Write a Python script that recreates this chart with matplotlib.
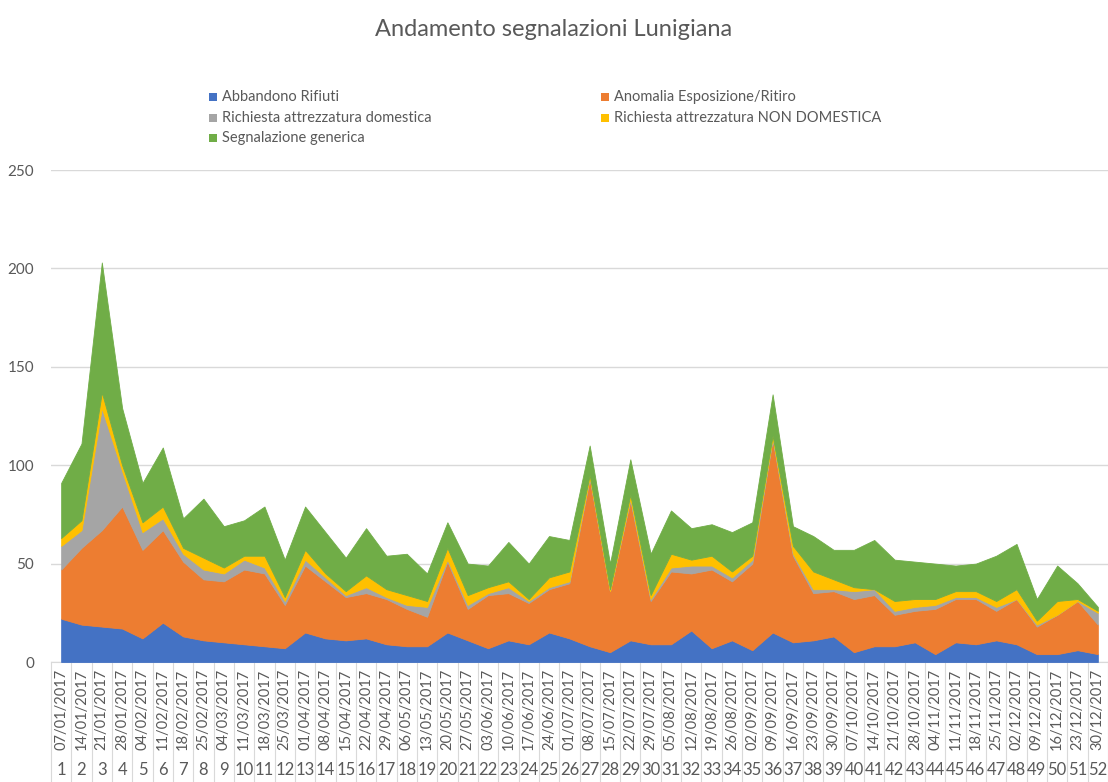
import numpy as np
import matplotlib
matplotlib.use("Agg")
import matplotlib.pyplot as plt
from matplotlib.patches import Rectangle
import matplotlib.transforms as mtransforms

plt.rcParams["font.family"] = ["Lato", "DejaVu Sans"]

# values (weekly counts, 2017)
weeks = list(range(1, 53))
dates = [
    "07/01/2017", "14/01/2017", "21/01/2017", "28/01/2017", "04/02/2017", "11/02/2017",
    "18/02/2017", "25/02/2017", "04/03/2017", "11/03/2017", "18/03/2017", "25/03/2017",
    "01/04/2017", "08/04/2017", "15/04/2017", "22/04/2017", "29/04/2017", "06/05/2017",
    "13/05/2017", "20/05/2017", "27/05/2017", "03/06/2017", "10/06/2017", "17/06/2017",
    "24/06/2017", "01/07/2017", "08/07/2017", "15/07/2017", "22/07/2017", "29/07/2017",
    "05/08/2017", "12/08/2017", "19/08/2017", "26/08/2017", "02/09/2017", "09/09/2017",
    "16/09/2017", "23/09/2017", "30/09/2017", "07/10/2017", "14/10/2017", "21/10/2017",
    "28/10/2017", "04/11/2017", "11/11/2017", "18/11/2017", "25/11/2017", "02/12/2017",
    "09/12/2017", "16/12/2017", "23/12/2017", "30/12/2017",
]

abbandono = [22, 19, 18, 17, 12, 20, 13, 11, 10, 9, 8, 7, 15, 12, 11, 12, 9, 8, 8, 15,
             11, 7, 11, 9, 15, 12, 8, 5, 11, 9, 9, 16, 7, 11, 6, 15, 10, 11, 13, 5,
             8, 8, 10, 4, 10, 9, 11, 9, 4, 4, 6, 4]
anomalia = [25, 39, 49, 62, 45, 47, 38, 31, 31, 38, 37, 22, 34, 29, 22, 23, 23, 19, 15, 36,
            16, 27, 24, 21, 22, 28, 85, 31, 71, 22, 37, 29, 40, 30, 44, 98, 44, 24, 23, 27,
            26, 16, 16, 23, 22, 23, 15, 23, 14, 20, 25, 15]
domestica = [12, 9, 62, 18, 9, 6, 4, 5, 4, 5, 3, 2, 3, 2, 1, 3, 1, 2, 5, 1,
             2, 1, 3, 1, 1, 1, 1, 0, 1, 1, 2, 4, 2, 2, 2, 1, 1, 2, 1, 4,
             3, 2, 2, 2, 1, 1, 2, 0, 1, 0, 0, 6]
non_domestica = [4, 5, 8, 3, 5, 6, 3, 6, 3, 2, 6, 2, 5, 2, 2, 6, 4, 5, 3, 6,
                 5, 3, 3, 1, 5, 5, 1, 1, 2, 2, 7, 3, 5, 3, 2, 1, 4, 9, 5, 2,
                 0, 5, 4, 3, 3, 3, 3, 5, 2, 7, 1, 1]
generica = [28, 39, 66, 29, 20, 30, 15, 30, 21, 18, 25, 19, 22, 21, 17, 24, 17, 21, 14, 13,
            16, 11, 20, 18, 21, 16, 15, 13, 18, 21, 22, 16, 16, 20, 17, 21, 10, 18, 15, 19,
            25, 21, 19, 18, 13, 14, 23, 23, 11, 18, 8, 2]

series_names = ["Abbandono Rifiuti", "Anomalia Esposizione/Ritiro",
                "Richiesta attrezzatura domestica", "Richiesta attrezzatura NON DOMESTICA",
                "Segnalazione generica"]
colors = ["#4472C4", "#ED7D31", "#A5A5A5", "#FFC000", "#70AD47"]
text_color = "#595959"
grid_color = "#D9D9D9"

fig = plt.figure(figsize=(11.08, 7.82), dpi=100)
ax = fig.add_axes([51 / 1108, 120 / 782, 1057 / 1108, 492 / 782])

ax.stackplot(weeks, abbandono, anomalia, domestica, non_domestica, generica,
             colors=colors, linewidth=0.6, edgecolor="face", zorder=3)

ax.set_xlim(0.5, 52.5)
ax.set_ylim(0, 250)
ax.set_yticks(range(0, 251, 50))
ax.yaxis.grid(True, color=grid_color, linewidth=1, zorder=0)
ax.tick_params(axis="y", length=0, pad=12, labelsize=11, labelcolor=text_color)
for s in ["top", "right", "left"]:
    ax.spines[s].set_visible(False)
ax.spines["bottom"].set_color(grid_color)

ax.set_xticks(weeks)
ax.set_xticklabels(dates, rotation=90, fontsize=10.5, color=text_color)
ax.tick_params(axis="x", length=0, pad=5)

# second category level: week numbers, plus separators
trans = mtransforms.blended_transform_factory(ax.transData, ax.transAxes)
for w in weeks:
    ax.text(w, -0.22, str(w), transform=trans, ha="center", va="center",
            fontsize=12, color=text_color)
for w in range(0, 53):
    ax.plot([w + 0.5, w + 0.5], [0, -0.245], transform=trans, color=grid_color,
            linewidth=0.8, clip_on=False)

fig.text(0.5, 1 - 30 / 782, "Andamento segnalazioni Lunigiana", ha="center", va="center",
         fontsize=17, color=text_color)

# legend laid out like the original: two columns, three rows
legend_pos = [(213, 97), (605, 97), (213, 118), (605, 118), (213, 138)]
for (px, py), name, c in zip(legend_pos, series_names, colors):
    fig.add_artist(Rectangle((px / 1108 - 4 / 1108, 1 - (py + 4) / 782), 8 / 1108, 8 / 782,
                             transform=fig.transFigure, facecolor=c, edgecolor="none"))
    fig.text((px + 9) / 1108, 1 - py / 782, name, ha="left", va="center",
             fontsize=10.5, color=text_color)

fig.savefig("out.png", dpi=100)
